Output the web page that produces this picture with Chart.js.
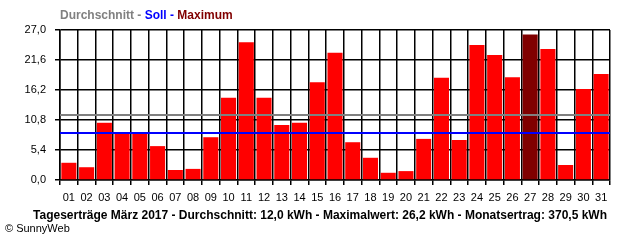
<!DOCTYPE html>
<html>
<head>
<meta charset="utf-8">
<script src="https://cdn.jsdelivr.net/npm/chart.js@4"></script>
<style>
  html, body { margin: 0; padding: 0; background: #fff; }
  #wrap { width: 640px; height: 240px; }
</style>
</head>
<body>
<div id="wrap"><canvas id="yieldChart" width="640" height="240"></canvas></div>
<script>
/* Daten Start */
const days = ['01','02','03','04','05','06','07','08','09','10','11','12','13','14','15','16','17','18','19','20','21','22','23','24','25','26','27','28','29','30','31'];
const dailyKwh = [3.1, 2.3, 10.3, 8.6, 8.3, 6.1, 1.8, 2.0, 7.7, 14.8, 24.8, 14.8, 9.9, 10.3, 17.6, 22.9, 6.8, 4.0, 1.3, 1.6, 7.4, 18.4, 7.2, 24.3, 22.5, 18.5, 26.2, 23.6, 2.7, 16.4, 19.1];
const yTicks = [0, 5.4, 10.8, 16.2, 21.6, 27.0];
const avgLine = 11.7;
const sollLine = 8.4;
const maxDay = '27';
/* Daten End */

const barColors = days.map(d => d === maxDay ? '#800000' : '#ff0000');
const fmt = v => v.toFixed(1).replace('.', ',');
const font = 'Liberation Sans';

// Durchschnitt / Soll Linien + Texte
const extras = {
    id: 'extras',
    afterDatasetsDraw(chart) {
        const ctx = chart.ctx, a = chart.chartArea, y = chart.scales.y;
        ctx.save();
        [[avgLine, '#808080'], [sollLine, '#0000ff']].forEach(([v, c]) => {
            const py = Math.round(y.getPixelForValue(v));
            ctx.strokeStyle = c;
            ctx.lineWidth = 2;
            ctx.beginPath();
            ctx.moveTo(a.left, py);
            ctx.lineTo(a.right, py);
            ctx.stroke();
        });
        ctx.restore();
    },
    afterDraw(chart) {
        const ctx = chart.ctx;
        ctx.save();
        ctx.textBaseline = 'middle';
        ctx.font = 'bold 12px ' + font;
        let x = 60;
        [['Durchschnitt - ', '#808080'], ['Soll - ', '#0000ff'], ['Maximum', '#800000']].forEach(([t, c]) => {
            ctx.fillStyle = c;
            ctx.textAlign = 'left';
            ctx.fillText(t, x, 16);
            x += ctx.measureText(t).width;
        });
        ctx.fillStyle = '#000';
        ctx.textAlign = 'center';
        ctx.font = 'bold 12px ' + font;
        ctx.fillText('Tageserträge März 2017 - Durchschnitt: 12,0 kWh - Maximalwert: 26,2 kWh - Monatsertrag: 370,5 kWh', 320, 216);
        ctx.textAlign = 'left';
        ctx.font = '11px ' + font;
        ctx.fillText('© SunnyWeb', 5, 229);
        ctx.restore();
    }
};

const myChart = new Chart(document.getElementById('yieldChart').getContext('2d'), {
    type: 'bar',
    data: {
        labels: days,
        datasets: [{
            data: dailyKwh,
            backgroundColor: barColors,
            borderWidth: 0,
            categoryPercentage: 1.0,
            barPercentage: 0.85
        }]
    },
    options: {
        responsive: false,
        animation: false,
        layout: { padding: { top: 30, right: 30, left: 0, bottom: 0 } },
        plugins: { legend: { display: false }, tooltip: { enabled: false } },
        scales: {
            x: {
                afterFit: s => { s.height = 60; },
                grid: { color: '#000', lineWidth: 1.5, tickLength: 5, offset: true },
                border: { color: '#000', width: 1.5 },
                ticks: { color: '#000', font: { family: font, size: 11 }, padding: 6, maxRotation: 0, autoSkip: false }
            },
            y: {
                min: 0,
                max: 27,
                afterFit: s => { s.width = 60; },
                afterBuildTicks: s => { s.ticks = yTicks.map(v => ({ value: v })); },
                grid: { color: '#000', lineWidth: 1.5, tickLength: 5 },
                border: { color: '#000', width: 1.5 },
                ticks: { color: '#000', font: { family: font, size: 11 }, padding: 9, callback: v => fmt(v) }
            }
        }
    },
    plugins: [extras]
});
</script>
</body>
</html>
